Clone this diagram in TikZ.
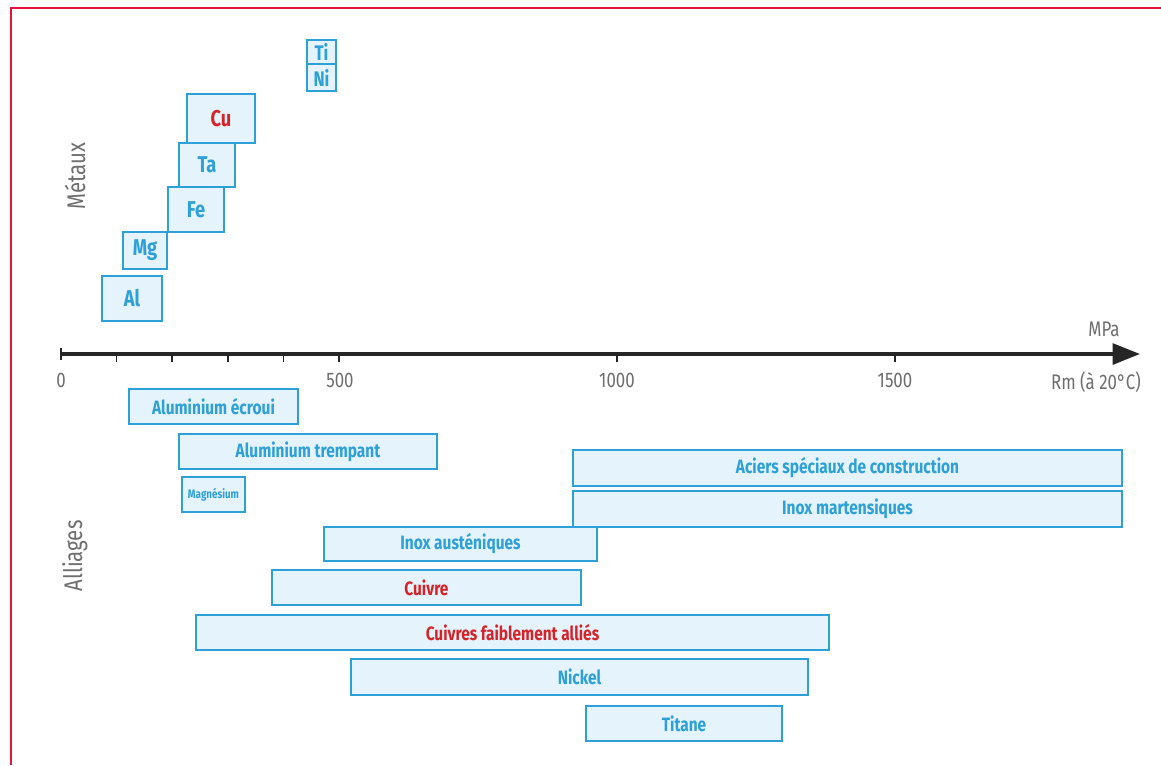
\documentclass[tikz,border=0pt]{standalone}
\usepackage{fontspec}
\setmainfont[FakeStretch=0.8]{Fira Sans}
\usetikzlibrary{arrows.meta,fit}
\definecolor{boxblue}{RGB}{45,160,215}
\definecolor{boxfill}{RGB}{228,243,252}
\definecolor{redtxt}{RGB}{215,35,40}
\definecolor{axisgray}{RGB}{110,110,110}
\definecolor{frame}{RGB}{230,20,60}
\tikzset{
  bar/.style={draw=boxblue,fill=boxfill,line width=0.9pt,inner sep=0pt},
  bartext/.style={text=boxblue,font=\bfseries\fontsize{11}{12}\selectfont,inner sep=0pt},
  metaltext/.style={bartext,font=\bfseries\fontsize{13}{14}\selectfont},
  redtext/.style={text=redtxt},
  axislabel/.style={text=axisgray,font=\fontsize{12}{13}\selectfont},
  sidelabel/.style={axislabel,font=\fontsize{14.5}{15}\selectfont,rotate=90},
}
\begin{document}
\begin{tikzpicture}[x=0.02cm,y=-0.02cm]
\useasboundingbox (0,0) rectangle (1161,765);
\fill[white] (0,0) rectangle (1161,765);
\draw[frame,line width=1.7pt] (11,765) -- (11,8) -- (1161,8);
% axe
\coordinate (origin) at (61,354);
\coordinate (tip) at (1140,354);
\draw[line width=1.8pt,black!85,-{Triangle[length=0.55cm,width=0.42cm]}] (origin) -- (tip);
\draw[line width=1pt,black!85] (61,348) -- (61,360);
\foreach \v in {100,200,300,400,500,1000,1500}
  \draw[line width=1pt,black!85] ({61+0.556*\v},354) -- ({61+0.556*\v},362);
\node[axislabel] (l0) at (61,380) {0};
\node[axislabel] (l500) at (340,380) {500};
\node[axislabel] (l1000) at (617,380) {1000};
\node[axislabel] (l1500) at (895,380) {1500};
\node[axislabel,anchor=east] (rm) at (1147,382) {Rm (à 20°C)};
\node[axislabel] (mpa) at (1104,329) {MPa};
\node[sidelabel] (metaux) at (75,176) {Métaux};
\node[sidelabel] (alliages) at (75,556) {Alliages};
% metaux
\node[bar,fit={(102,276) (162,321)},label={[metaltext]center:Al}] (al) {};
\node[bar,fit={(123,232) (167,269)},label={[metaltext]center:Mg}] (mg) {};
\node[bar,fit={(168,187) (224,232)},label={[metaltext]center:Fe}] (fe) {};
\node[bar,fit={(179,143) (235,187)},label={[metaltext]center:Ta}] (ta) {};
\node[bar,fit={(187,94) (255,143)},label={[metaltext,redtext]center:Cu}] (cu) {};
\node[bar,fit={(307,40) (336,64)},label={[metaltext,font=\bfseries\fontsize{12}{13}\selectfont]center:Ti}] (ti) {};
\node[bar,fit={(307,64) (336,91)},label={[metaltext,font=\bfseries\fontsize{12}{13}\selectfont]center:Ni}] (ni) {};
% alliages
\node[bar,fit={(129,389) (298,424)},label={[bartext]center:Aluminium écroui}] (alecroui) {};
\node[bar,fit={(179,434) (437,469)},label={[bartext]center:Aluminium trempant}] (altrempant) {};
\node[bar,fit={(182,477) (245,512)},label={[bartext,font=\bfseries\fontsize{7}{8}\selectfont]center:Magnésium}] (magnesium) {};
\node[bar,fit={(573,450) (1122,486)},label={[bartext]center:Aciers spéciaux de construction}] (aciers) {};
\node[bar,fit={(573,491) (1122,527)},label={[bartext]center:Inox martensiques}] (inoxmart) {};
\node[bar,fit={(324,527) (597,561)},label={[bartext]center:Inox austéniques}] (inoxaust) {};
\node[bar,fit={(272,570) (581,605)},label={[bartext,redtext]center:Cuivre}] (cuivre) {};
\node[bar,fit={(196,615) (829,650)},label={[bartext,redtext]center:Cuivres faiblement alliés}] (cuivres) {};
\node[bar,fit={(351,659) (808,695)},label={[bartext]center:Nickel}] (nickel) {};
\node[bar,fit={(586,706) (782,741)},label={[bartext]center:Titane}] (titane) {};
\end{tikzpicture}
\end{document}
